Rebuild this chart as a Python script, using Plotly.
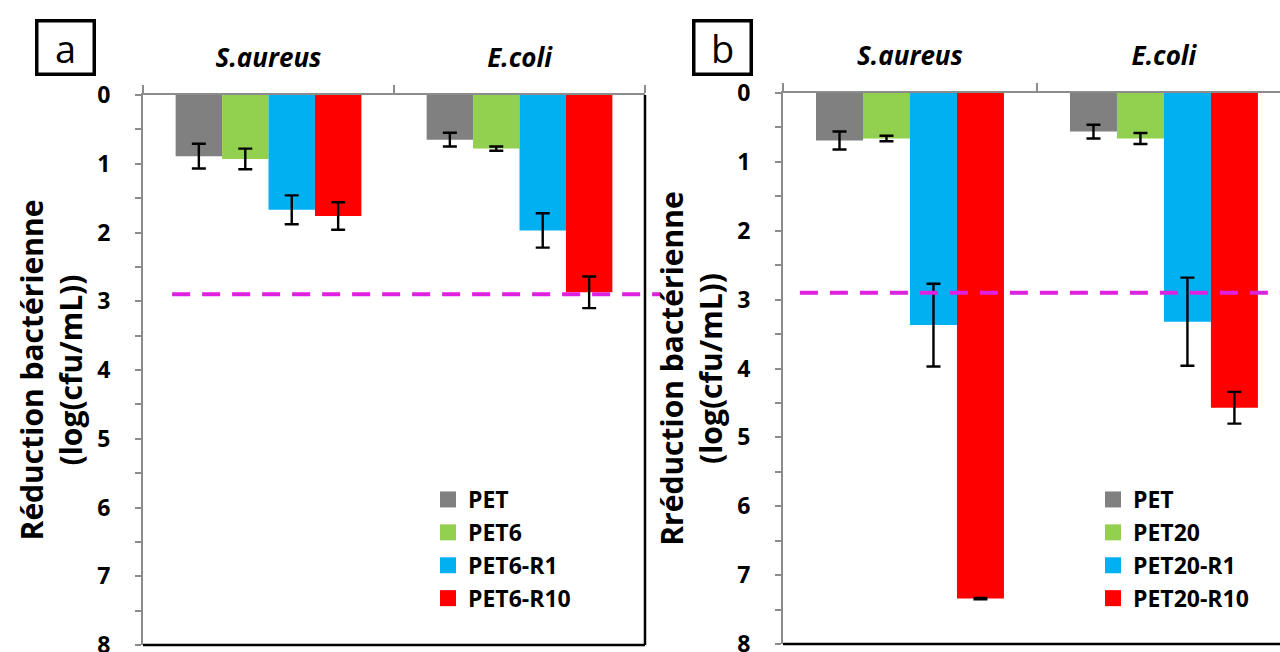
import plotly.graph_objects as go

# Bacterial reduction data (log cfu/mL), two panels
categories = ["S.aureus", "E.coli"]

series_a = ["PET", "PET6", "PET6-R1", "PET6-R10"]
values_a = {
    "PET": [0.89, 0.65],
    "PET6": [0.93, 0.78],
    "PET6-R1": [1.67, 1.97],
    "PET6-R10": [1.76, 2.87],
}
errors_a = {
    "PET": [0.18, 0.10],
    "PET6": [0.15, 0.03],
    "PET6-R1": [0.21, 0.25],
    "PET6-R10": [0.20, 0.23],
}

series_b = ["PET", "PET20", "PET20-R1", "PET20-R10"]
values_b = {
    "PET": [0.69, 0.56],
    "PET20": [0.66, 0.66],
    "PET20-R1": [3.37, 3.32],
    "PET20-R10": [7.34, 4.57],
}
errors_b = {
    "PET": [0.13, 0.10],
    "PET20": [0.04, 0.08],
    "PET20-R1": [0.60, 0.64],
    "PET20-R10": [0.01, 0.23],
}

threshold = 2.9
y_ticks = [0, 1, 2, 3, 4, 5, 6, 7, 8]

colors = ["#808080", "#92D050", "#00B0F0", "#FF0000"]
FONT = "Open Sans"
AXIS_GREY = "#8c8c8c"

fig = go.Figure()


def add_panel(series, values, errors, xa, ya, legend):
    for name, col in zip(series, colors):
        fig.add_trace(go.Bar(
            x=categories, y=values[name], name=name,
            marker=dict(color=col, line=dict(width=0)),
            error_y=dict(type="data", array=errors[name], color="black",
                         thickness=2.4, width=7),
            xaxis=xa, yaxis=ya, showlegend=False,
        ))
        # legend entry with a larger square swatch
        fig.add_trace(go.Scatter(
            x=[None], y=[None], mode="markers", name=name,
            marker=dict(symbol="square", size=16, color=col),
            xaxis=xa, yaxis=ya, legend=legend, legendgroup=legend + name,
        ))


add_panel(series_a, values_a, errors_a, "x", "y", "legend")
add_panel(series_b, values_b, errors_b, "x2", "y2", "legend2")

W, H = 1280, 652
xa_dom = [143 / W, 645 / W]
xb_dom = [783 / W, 1.0]
ya_dom = [(H - 645) / H, (H - 95) / H]
yb_dom = [(H - 644) / H, (H - 93) / H]

xaxis_common = dict(
    type="category", side="top", showline=True, linecolor=AXIS_GREY, linewidth=2,
    ticks="outside", tickson="boundaries", ticklen=8, tickcolor=AXIS_GREY,
    tickwidth=1.5, showgrid=False, zeroline=False, ticklabelstandoff=16,
    automargin=False,
    tickfont=dict(family=FONT, size=26, color="black", weight="bold", style="italic"),
)
yaxis_common = dict(
    range=[8, 0], tickvals=y_ticks, showline=True, linecolor=AXIS_GREY, linewidth=2,
    ticks="outside", ticklen=6, tickcolor=AXIS_GREY, tickwidth=1.5,
    minor=dict(dtick=0.5, ticks="outside", ticklen=6, tickcolor=AXIS_GREY, tickwidth=1.5),
    showgrid=False, zeroline=False, automargin=False,
    ticklabelstandoff=20, ticklabeloverflow="allow",
    tickfont=dict(family=FONT, size=23, color="black", weight="bold"),
)
# inner half of the crossing major tick marks
inner_ticks = dict(
    range=[8, 0], tickvals=y_ticks, showline=False, ticks="inside", ticklen=5,
    tickcolor=AXIS_GREY, tickwidth=1.5, showticklabels=False, showgrid=False,
    zeroline=False, automargin=False,
)
title_font = dict(family=FONT, size=30, color="black", weight="bold")
legend_font = dict(family=FONT, size=23, color="black", weight="bold")

fig.update_layout(
    width=W, height=H, margin=dict(l=0, r=0, t=0, b=0),
    paper_bgcolor="white", plot_bgcolor="white",
    barmode="group", bargap=0.26, bargroupgap=0,
    xaxis=dict(domain=xa_dom, range=[-0.5, 1.5], anchor="y", **xaxis_common),
    xaxis2=dict(domain=xb_dom, range=[-0.5, 1.457], anchor="y2", **xaxis_common),
    yaxis=dict(domain=ya_dom, anchor="x",
               title=dict(text="Réduction bactérienne<br>(log(cfu/mL))", standoff=6,
                          font=title_font),
               **yaxis_common),
    yaxis2=dict(domain=yb_dom, anchor="x2",
                title=dict(text="Rréduction bactérienne<br>(log(cfu/mL))", standoff=6,
                           font=title_font),
                **yaxis_common),
    yaxis3=dict(domain=ya_dom, anchor="x", overlaying="y", **inner_ticks),
    yaxis4=dict(domain=yb_dom, anchor="x2", overlaying="y2", **inner_ticks),
    legend=dict(x=428 / W, y=(H - 478) / H, xanchor="left", yanchor="top",
                bgcolor="rgba(0,0,0,0)", tracegroupgap=0, font=legend_font),
    legend2=dict(x=1093 / W, y=(H - 478) / H, xanchor="left", yanchor="top",
                 bgcolor="rgba(0,0,0,0)", tracegroupgap=0, font=legend_font),
    showlegend=True,
)

# threshold line and plot-area frame edges
fig.add_shape(type="line", xref="x domain", yref="y", x0=0.058, x1=1.03,
              y0=threshold, y1=threshold, line=dict(color="#E020E0", width=4, dash="18px,12px"))
fig.add_shape(type="line", xref="x2 domain", yref="y2", x0=0.034, x1=1.0,
              y0=threshold, y1=threshold, line=dict(color="#E020E0", width=4, dash="18px,12px"))
fig.add_shape(type="line", xref="x domain", yref="y domain", x0=0, x1=1, y0=0, y1=0,
              line=dict(color="black", width=2.5))
fig.add_shape(type="line", xref="x domain", yref="y domain", x0=1, x1=1, y0=0, y1=1,
              line=dict(color="black", width=2.5))
fig.add_shape(type="line", xref="x2 domain", yref="y2 domain", x0=0, x1=1, y0=0, y1=0,
              line=dict(color="black", width=2.5))

# panel letters in boxes
for letter, cx in (("a", 65), ("b", 722)):
    fig.add_annotation(
        x=cx / W, y=1 - 47 / H, xref="paper", yref="paper", text=letter,
        xanchor="center", yanchor="middle",
        showarrow=False, width=50, height=46, borderpad=2,
        bordercolor="black", borderwidth=3.5,
        font=dict(family=FONT, size=38, color="black"),
    )

fig.write_html("out.html")
